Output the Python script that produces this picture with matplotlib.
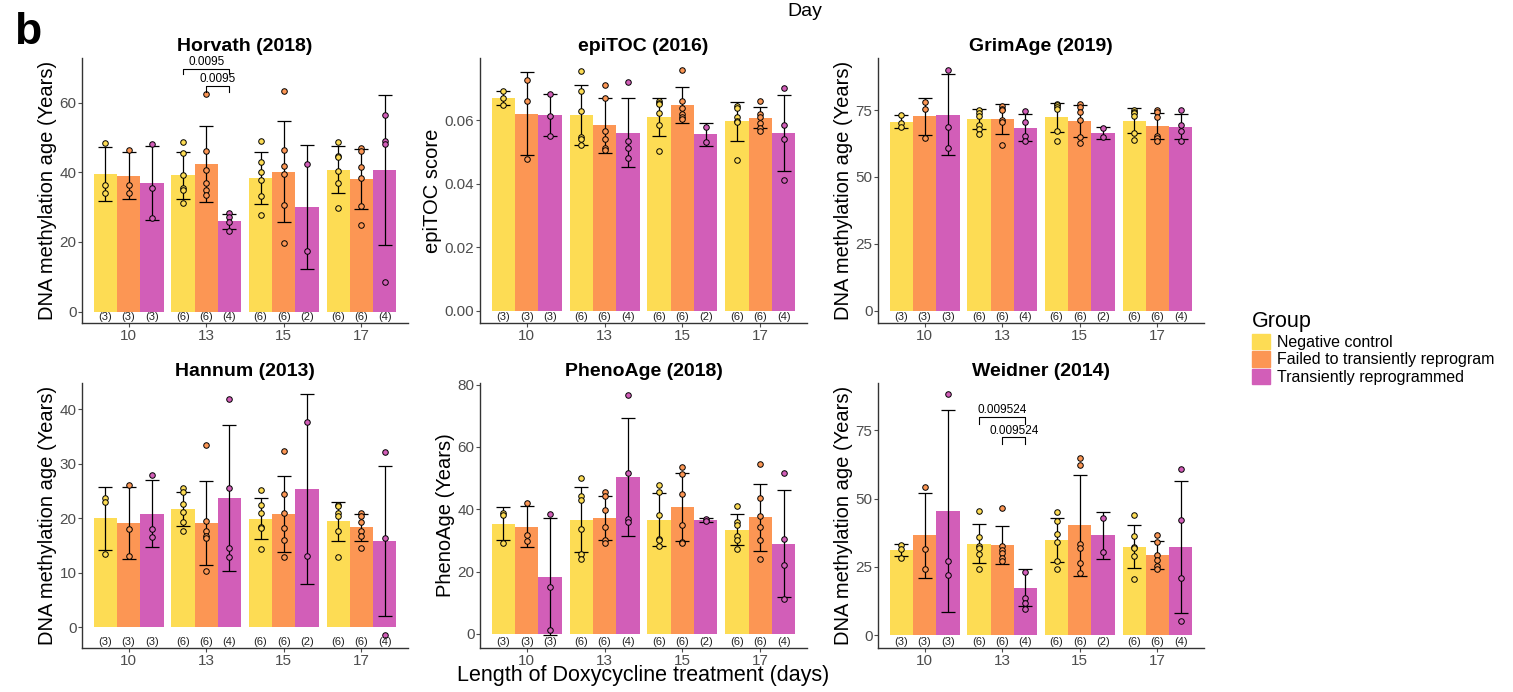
import numpy as np
import matplotlib
matplotlib.use('Agg')
import matplotlib.pyplot as plt
import matplotlib.patches as mpatches
import matplotlib.transforms as mtransforms

plt.rcParams['font.family'] = ['Liberation Sans', 'DejaVu Sans']

# groups / days
days = ['10', '13', '15', '17']
groups = ['Negative control', 'Failed to transiently reprogram', 'Transiently reprogrammed']
colors = ['#FDDC54', '#FC9654', '#D25EB8']
counts = [[3, 6, 6, 6], [3, 6, 6, 6], [3, 4, 2, 4]]

# ---- Horvath (2018)
horvath_mean = [[39.5, 39.1, 38.3, 40.7],
                [39.0, 42.4, 40.2, 38.0],
                [36.9, 25.9, 30.0, 40.6]]
horvath_sd = [[7.85, 6.7, 7.45, 6.8],
              [6.7, 10.85, 14.6, 8.7],
              [10.7, 2.15, 17.75, 21.55]]
horvath_pts = [[[48.5, 36.4, 33.9], [48.6, 45.4, 39.1, 35.5, 35.0, 31.1],
                [48.9, 42.9, 40.1, 37.8, 33.1, 27.7], [48.6, 44.6, 44.4, 40.3, 36.8, 29.6]],
               [[46.5, 36.4, 33.9], [62.5, 46.0, 40.7, 36.8, 35.0, 33.5],
                [63.2, 46.3, 41.9, 39.6, 30.7, 19.7], [46.9, 46.1, 41.4, 38.3, 30.3, 24.8]],
               [[48.2, 35.5, 26.9], [28.3, 27.1, 25.8, 23.1],
                [42.5, 17.4], [56.4, 49.0, 48.1, 8.6]]]

# ---- epiTOC (2016)
epitoc_mean = [[0.0670, 0.0615, 0.0610, 0.0596],
               [0.0621, 0.0584, 0.0649, 0.0608],
               [0.0616, 0.0560, 0.0555, 0.0559]]
epitoc_sd = [[0.00235, 0.00945, 0.0060, 0.0062],
             [0.01295, 0.0087, 0.0057, 0.00325],
             [0.0067, 0.01085, 0.00355, 0.0119]]
epitoc_pts = [[[0.0692, 0.0670, 0.0647], [0.0756, 0.0691, 0.0630, 0.0547, 0.0542, 0.0521],
               [0.0660, 0.0655, 0.0650, 0.0623, 0.0584, 0.0502], [0.0645, 0.0640, 0.0611, 0.0597, 0.0594, 0.0475]],
              [[0.0728, 0.0660, 0.0479], [0.0712, 0.0670, 0.0567, 0.0540, 0.0511, 0.0507],
               [0.0758, 0.0660, 0.0637, 0.0621, 0.0610, 0.0604], [0.0661, 0.0618, 0.0610, 0.0592, 0.0575, 0.0565]],
              [[0.0683, 0.0614, 0.0549], [0.0720, 0.0536, 0.0511, 0.0481],
               [0.0579, 0.0532], [0.0701, 0.0584, 0.0540, 0.0411]]]

# ---- GrimAge (2019)
grimage_mean = [[70.7, 71.6, 72.3, 71.1],
                [72.7, 71.7, 71.1, 69.1],
                [73.3, 68.5, 66.5, 68.8]]
grimage_sd = [[2.45, 3.7, 5.55, 4.8],
              [7.0, 5.45, 6.0, 4.95],
              [15.1, 5.05, 2.2, 4.7]]
grimage_pts = [[[73.3, 70.2, 68.7], [74.9, 74.1, 72.8, 69.4, 67.8, 66.1],
                [77.3, 77.0, 76.0, 75.3, 67.3, 63.4], [74.9, 74.4, 73.9, 72.9, 66.3, 63.7]],
               [[77.9, 75.5, 64.7], [76.4, 75.6, 75.1, 71.3, 70.4, 61.8],
                [77.3, 76.1, 74.3, 71.3, 65.1, 62.7], [74.9, 74.4, 72.6, 65.4, 64.6, 63.6]],
               [[90.1, 68.8, 61.0], [74.6, 70.7, 65.2, 63.6],
                [68.2, 64.8], [74.9, 69.4, 67.3, 63.6]]]

# ---- Hannum (2013)
hannum_mean = [[20.0, 21.7, 19.9, 19.4],
               [19.1, 19.1, 20.8, 18.3],
               [20.8, 23.7, 25.3, 15.8]]
hannum_sd = [[5.8, 3.2, 3.8, 3.6],
             [6.55, 7.75, 6.95, 2.4],
             [6.15, 13.4, 17.4, 13.75]]
hannum_pts = [[[23.8, 22.9, 13.4], [25.5, 24.9, 22.7, 21.2, 19.3, 17.6],
               [25.1, 22.4, 20.9, 18.4, 18.2, 14.3], [22.5, 22.2, 20.9, 20.5, 17.6, 12.9]],
              [[26.1, 18.1, 13.1], [33.5, 19.5, 17.6, 16.8, 16.3, 10.4],
               [32.4, 24.5, 21.0, 18.2, 16.0, 12.9], [20.9, 20.5, 19.3, 17.7, 16.8, 14.6]],
              [[27.9, 18.0, 16.6], [41.9, 25.5, 14.5, 12.9],
               [37.6, 13.0], [32.2, 16.3, -1.5]]]

# ---- PhenoAge (2018)
phenoage_mean = [[35.3, 36.7, 36.7, 33.4],
                 [34.4, 37.2, 40.7, 37.4],
                 [18.3, 50.3, 36.6, 28.9]]
phenoage_sd = [[5.3, 10.4, 8.4, 4.95],
               [6.65, 7.05, 10.85, 10.65],
               [18.75, 19.0, 0.65, 17.15]]
phenoage_pts = [[[38.9, 38.3, 29.2], [50.1, 44.1, 42.9, 33.6, 25.6, 24.2],
                 [47.7, 45.4, 38.3, 30.5, 30.0, 28.2], [41.2, 35.8, 34.8, 31.4, 30.0, 27.1]],
                [[42.0, 31.8, 29.8], [45.4, 44.2, 39.9, 34.2, 30.2, 29.2],
                 [53.5, 51.2, 45.0, 35.1, 29.4, 29.3], [54.6, 43.5, 37.9, 34.3, 30.1, 24.1]],
                [[38.5, 15.1, 1.3], [76.8, 51.5, 36.9, 35.9],
                 [37.0, 36.1], [51.7, 30.6, 22.2, 11.2]]]

# ---- Weidner (2014)
weidner_mean = [[31.2, 33.5, 34.8, 32.3],
                [36.6, 33.0, 40.2, 29.3],
                [45.4, 17.4, 36.6, 32.3]]
weidner_sd = [[2.35, 7.1, 8.1, 7.85],
              [15.6, 7.05, 18.5, 5.1],
              [36.85, 6.75, 8.55, 24.2]]
weidner_pts = [[[33.0, 31.6, 28.4], [45.6, 35.8, 32.6, 31.8, 29.6, 24.3],
                [45.0, 41.7, 36.9, 34.1, 27.0, 24.2], [44.0, 36.2, 32.4, 31.8, 28.9, 20.5]],
               [[54.2, 31.6, 24.1], [46.7, 32.8, 31.3, 30.0, 28.2, 27.0],
                [64.9, 62.3, 33.3, 31.8, 26.5, 22.7], [36.6, 34.1, 29.4, 27.6, 25.2, 24.2]],
               [[88.1, 27.0, 21.9], [23.0, 13.6, 11.8, 9.8],
                [42.8, 30.6], [60.8, 42.3, 20.8, 5.3]]]

# p-values shown on day 13 comparisons
horvath_p = ['0.0095', '0.0095']
weidner_p = ['0.009524', '0.009524']

W, H = 1513, 692
fig = plt.figure(figsize=(W / 100, H / 100), dpi=100)


def px_axes(l, t, r, b):
    return fig.add_axes([l / W, 1 - b / H, (r - l) / W, (b - t) / H])


panels = [
    ('Horvath (2018)', horvath_mean, horvath_sd, horvath_pts, (-3.3, 72.8), [0, 20, 40, 60], '%d',
     'DNA methylation age (Years)', (82, 58, 408, 323)),
    ('epiTOC (2016)', epitoc_mean, epitoc_sd, epitoc_pts, (-0.0039, 0.0796), [0, 0.02, 0.04, 0.06], '%.2f',
     'epiTOC score', (480, 58, 807, 323)),
    ('GrimAge (2019)', grimage_mean, grimage_sd, grimage_pts, (-4.6, 94.5), [0, 25, 50, 75], '%d',
     'DNA methylation age (Years)', (878, 58, 1204, 323)),
    ('Hannum (2013)', hannum_mean, hannum_sd, hannum_pts, (-3.8, 44.8), [0, 10, 20, 30, 40], '%d',
     'DNA methylation age (Years)', (82, 383, 408, 648)),
    ('PhenoAge (2018)', phenoage_mean, phenoage_sd, phenoage_pts, (-4.5, 80.5), [0, 20, 40, 60, 80], '%d',
     'PhenoAge (Years)', (480, 383, 807, 648)),
    ('Weidner (2014)', weidner_mean, weidner_sd, weidner_pts, (-4.6, 92.2), [0, 25, 50, 75], '%d',
     'DNA methylation age (Years)', (878, 383, 1204, 648)),
]

x = np.arange(1, len(days) + 1)
bw = 0.3
offs = [-bw, 0, bw]
axes = []
for title, mean, sd, pts, ylim, yt, fmt, ylab, box in panels:
    ax = px_axes(*box)
    axes.append(ax)
    trans = mtransforms.blended_transform_factory(ax.transData, ax.transAxes)
    for g in range(3):
        xs = x + offs[g]
        ax.bar(xs, mean[g], width=bw, color=colors[g], zorder=1)
        ax.errorbar(xs, mean[g], yerr=sd[g], fmt='none', ecolor='black', elinewidth=0.9,
                    capsize=5, capthick=0.9, zorder=2)
        for d in range(len(days)):
            p = pts[g][d]
            ax.scatter([xs[d]] * len(p), p, s=16, color=colors[g], edgecolor='black',
                       linewidth=0.7, zorder=3)
            ax.text(xs[d], 0.024, '(%d)' % counts[g][d], transform=trans, ha='center',
                    va='center', fontsize=8, color='#222222', zorder=4)
    ax.set_xlim(0.4, 4.6)
    ax.set_ylim(*ylim)
    ax.set_xticks(x)
    ax.set_xticklabels(days)
    ax.set_yticks(yt)
    ax.set_yticklabels([fmt % v for v in yt])
    ax.tick_params(colors='#4D4D4D', labelsize=11, length=3, width=0.8, pad=1)
    for s in ['top', 'right']:
        ax.spines[s].set_visible(False)
    for s in ['left', 'bottom']:
        ax.spines[s].set_color('#333333')
        ax.spines[s].set_linewidth(1.0)
    ax.set_title(title, fontsize=14, fontweight='bold', pad=5)
    ax.set_ylabel(ylab, fontsize=14.5, labelpad=2)


def bracket(ax, x1, x2, y, drop, label):
    ax.plot([x1, x1, x2, x2], [y - drop, y, y, y - drop], color='black', lw=0.8, zorder=4)
    ax.annotate(label, ((x1 + x2) / 2, y), xytext=(0, 0.5), textcoords='offset points',
                ha='center', va='bottom', fontsize=8.5)


bracket(axes[0], x[1] + offs[0], x[1] + offs[2], 69.7, 1.6, horvath_p[0])
bracket(axes[0], x[1] + offs[1], x[1] + offs[2], 64.8, 1.7, horvath_p[1])
bracket(axes[5], x[1] + offs[0], x[1] + offs[2], 79.8, 2.4, weidner_p[0])
bracket(axes[5], x[1] + offs[1], x[1] + offs[2], 72.3, 2.3, weidner_p[1])

fig.text(643 / W, 1 - 676 / H, 'Length of Doxycycline treatment (days)', ha='center', va='center', fontsize=15.5)
fig.text(805 / W, 1 - 12 / H, 'Day', ha='center', va='center', fontsize=14)
fig.text(14 / W, 1 - 33 / H, 'b', ha='left', va='center', fontsize=32, fontweight='bold')

handles = [mpatches.Patch(color=c, label=l) for c, l in zip(colors, groups)]
fig.legend(handles=handles, title='Group', loc='upper left', bbox_to_anchor=(1252 / W, 1 - 311 / H),
           frameon=False, fontsize=11.5, title_fontsize=15.5, handlelength=1.1, handleheight=1.1,
           labelspacing=0.1, handletextpad=0.45, borderpad=0, borderaxespad=0, alignment='left')

fig.savefig('out.png', dpi=100)
